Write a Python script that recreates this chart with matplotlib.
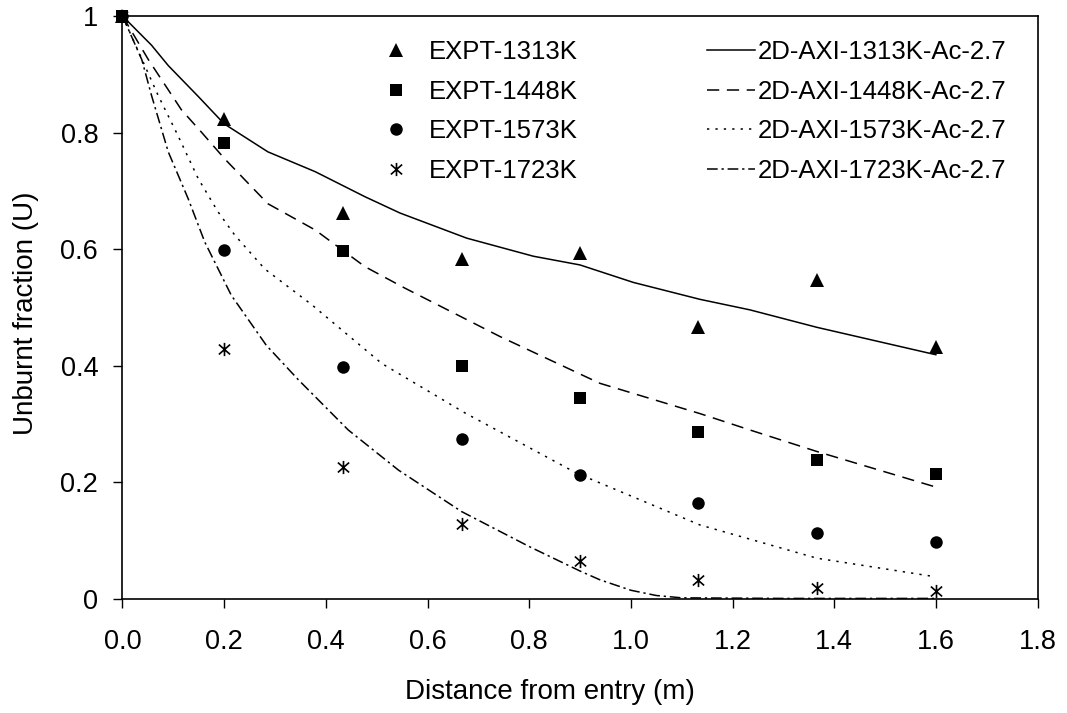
import matplotlib
matplotlib.use("Agg")
import matplotlib.pyplot as plt
from matplotlib.lines import Line2D
from matplotlib.path import Path

plt.rcParams["font.family"] = ["Liberation Sans", "DejaVu Sans"]

# measured unburnt fraction along the reactor
expt_x = [0.0, 0.2, 0.433, 0.667, 0.9, 1.133, 1.367, 1.6]
expt_1313 = [1.0, 0.823, 0.662, 0.584, 0.594, 0.466, 0.548, 0.433]
expt_1448 = [1.0, 0.782, 0.597, 0.400, 0.344, 0.287, 0.238, 0.214]
expt_1573 = [1.0, 0.599, 0.398, 0.274, 0.213, 0.164, 0.114, 0.097]
expt_1723 = [1.0, 0.428, 0.227, 0.128, 0.065, 0.033, 0.019, 0.014]

# 2D axisymmetric model curves
model_1313_x = [0.0, 0.057, 0.09, 0.149, 0.2, 0.286, 0.379, 0.477, 0.546, 0.677,
                0.808, 0.9, 1.005, 1.136, 1.234, 1.366, 1.6]
model_1313_y = [1.0, 0.95, 0.915, 0.862, 0.815, 0.767, 0.733, 0.690, 0.662, 0.619,
                0.588, 0.573, 0.543, 0.514, 0.496, 0.466, 0.419]
model_1448_x = [0.0, 0.051, 0.116, 0.155, 0.201, 0.286, 0.379, 0.477, 0.556, 0.743,
                0.939, 1.136, 1.234, 1.366, 1.6]
model_1448_y = [1.0, 0.925, 0.839, 0.801, 0.755, 0.678, 0.633, 0.570, 0.533, 0.450,
                0.370, 0.318, 0.290, 0.253, 0.192]
model_1573_x = [0.0, 0.07, 0.109, 0.149, 0.188, 0.221, 0.28, 0.372, 0.51, 0.674,
                0.893, 1.136, 1.366, 1.6]
model_1573_y = [1.0, 0.864, 0.795, 0.721, 0.664, 0.624, 0.566, 0.505, 0.404, 0.319,
                0.216, 0.127, 0.070, 0.038]
model_1723_x = [0.0, 0.038, 0.057, 0.09, 0.129, 0.162, 0.214, 0.283, 0.346, 0.444,
                0.543, 0.667, 0.8, 0.9, 0.939, 1.0, 1.05, 1.1, 1.3, 1.6]
model_1723_y = [1.0, 0.925, 0.864, 0.767, 0.687, 0.612, 0.521, 0.435, 0.376, 0.290,
                0.221, 0.150, 0.090, 0.048, 0.033, 0.015, 0.006, 0.002, 0.001, 0.001]

expt_labels = ["EXPT-1313K", "EXPT-1448K", "EXPT-1573K", "EXPT-1723K"]
model_labels = ["2D-AXI-1313K-Ac-2.7", "2D-AXI-1448K-Ac-2.7",
                "2D-AXI-1573K-Ac-2.7", "2D-AXI-1723K-Ac-2.7"]
x_ticks = [0.0, 0.2, 0.4, 0.6, 0.8, 1.0, 1.2, 1.4, 1.6, 1.8]
y_ticks = [0, 0.2, 0.4, 0.6, 0.8, 1]

W, H = 1067, 713
fig = plt.figure(figsize=(W / 100, H / 100), dpi=100)
ax = fig.add_axes([122.5 / W, (H - 599) / H, 915 / W, 583 / H])

# asterisk: vertical bar crossed by an X
star = Path([(0, -1), (0, 1), (-0.85, -0.75), (0.85, 0.75), (-0.85, 0.75), (0.85, -0.75)],
            [Path.MOVETO, Path.LINETO] * 3)


def marker_kw(m, ms):
    if m is star:
        return dict(marker=m, ms=ms, mec="black", mfc="none", mew=1.2)
    return dict(marker=m, ms=ms, color="black", mew=0)


markers = ["^", "s", "o", star]
sizes = [9.5, 8.5, 9, 9.5]
for ys, m, ms in zip([expt_1313, expt_1448, expt_1573, expt_1723], markers, sizes):
    ax.plot(expt_x, ys, ls="none", clip_on=False, zorder=4, **marker_kw(m, ms))

styles = ["-", (0, (8, 5)), (0, (1.5, 4)), (0, (7, 2.5, 1.5, 2.5))]
curves = [(model_1313_x, model_1313_y), (model_1448_x, model_1448_y),
          (model_1573_x, model_1573_y), (model_1723_x, model_1723_y)]
for (cx, cy), ls in zip(curves, styles):
    ax.plot(cx, cy, color="black", lw=1.1, ls=ls, zorder=3)

ax.set_xlim(0, 1.8)
ax.set_ylim(0, 1)
ax.set_xticks(x_ticks)
ax.set_xticklabels([f"{v:.1f}" for v in x_ticks])
ax.set_yticks(y_ticks)
ax.set_yticklabels(["0", "0.2", "0.4", "0.6", "0.8", "1"])
ax.tick_params(direction="out", length=6.5, width=1, labelsize=19.5, colors="black")
ax.tick_params(axis="x", pad=15)
ax.tick_params(axis="y", pad=11)
for sp in ax.spines.values():
    sp.set_linewidth(1.2)
ax.set_xlabel("Distance from entry (m)", fontsize=20)
ax.xaxis.set_label_coords(0.467, -0.137)
ax.set_ylabel("Unburnt fraction (U)", fontsize=20)
ax.yaxis.set_label_coords(-0.0915, 0.49)

fs = 18.5
handles1 = [Line2D([], [], ls="none", **marker_kw(m, ms)) for m, ms in zip(markers, sizes)]
leg1 = ax.legend(handles1, expt_labels, loc="upper left", bbox_to_anchor=(0.2847, 0.958),
                 frameon=False, fontsize=fs, handlelength=1.0, handletextpad=0.79,
                 labelspacing=0.6, borderpad=0, borderaxespad=0)
ax.add_artist(leg1)

handles2 = [Line2D([], [], color="black", lw=1.1, ls=ls) for ls in styles]
ax.legend(handles2, model_labels, loc="upper left", bbox_to_anchor=(0.6385, 0.958),
          frameon=False, fontsize=fs, handlelength=1.88, handletextpad=0.12,
          labelspacing=0.6, borderpad=0, borderaxespad=0)

fig.savefig("out.png", dpi=100)
